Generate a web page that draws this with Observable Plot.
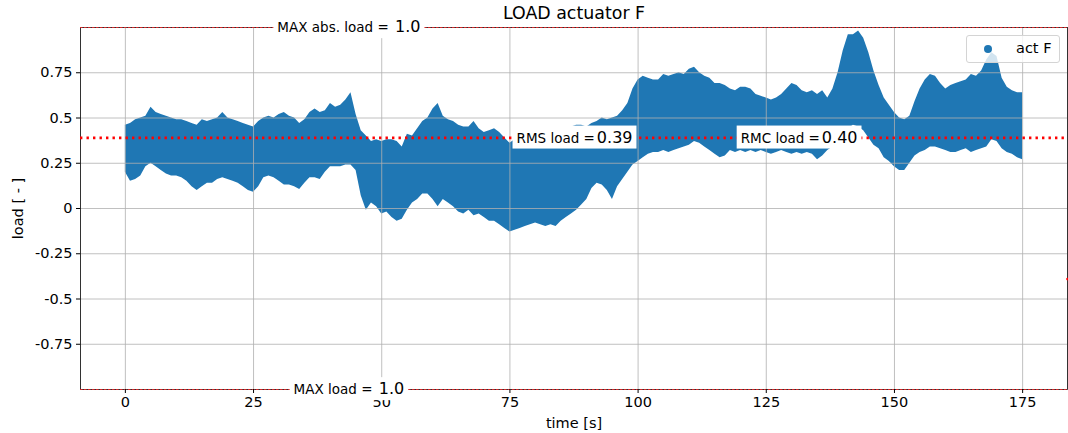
<!DOCTYPE html>
<html><head><meta charset="utf-8">
<script src="https://cdn.jsdelivr.net/npm/d3@7"></script>
<script src="https://cdn.jsdelivr.net/npm/@observablehq/plot@0.6"></script>
<style>
html,body{margin:0;padding:0;background:#fff;}
#wrap{position:relative;width:1068px;height:433px;font-family:"DejaVu Sans",sans-serif;}
#legend{position:absolute;left:966px;top:35px;width:94px;height:28px;box-sizing:border-box;border:1px solid #d4d4d4;border-radius:3px;background:rgba(255,255,255,0.8);}
#legend .sw{position:absolute;left:17px;top:9px;width:8px;height:8px;border-radius:50%;background:#1f77b4;}
#legend .lb{position:absolute;left:49px;top:3px;font-size:14.5px;line-height:19px;color:#000;}
</style></head><body><div id="wrap"><div id="legend"><span class="sw"></span><span class="lb">act F</span></div></div>
<script>
// time samples [s]
const time = [0,1,2,3,4,5,6,7,8,9,10,11,12,13,14,15,16,17,18,19,20,21,22,23,24,25,26,27,28,29,
30,31,32,33,34,35,36,37,38,39,40,41,42,43,44,45,46,47,48,49,50,51,52,53,54,55,56,57,58,59,
60,61,62,63,64,65,66,67,68,69,70,71,72,73,74,75,76,77,78,79,80,81,82,83,84,85,86,87,88,89,
90,91,92,93,94,95,96,97,98,99,100,101,102,103,104,105,106,107,108,109,110,111,112,113,114,115,116,117,118,119,
120,121,122,123,124,125,126,127,128,129,130,131,132,133,134,135,136,137,138,139,140,141,142,143,144,145,146,147,148,149,
150,151,152,153,154,155,156,157,158,159,160,161,162,163,164,165,166,167,168,169,170,171,172,173,174,175];
// upper envelope of the load samples
const upper = [0.46,0.47,0.49,0.50,0.51,0.56,0.53,0.52,0.51,0.50,
0.49,0.49,0.48,0.47,0.46,0.49,0.48,0.49,0.50,0.53,
0.50,0.49,0.48,0.47,0.46,0.45,0.48,0.50,0.51,0.50,
0.52,0.53,0.51,0.50,0.47,0.49,0.53,0.55,0.53,0.54,
0.58,0.56,0.57,0.60,0.64,0.52,0.43,0.40,0.37,0.38,
0.37,0.38,0.38,0.37,0.34,0.41,0.40,0.44,0.48,0.50,
0.55,0.58,0.51,0.49,0.48,0.46,0.45,0.45,0.48,0.44,
0.42,0.43,0.44,0.42,0.39,0.36,0.38,0.40,0.41,0.40,
0.41,0.40,0.41,0.42,0.43,0.44,0.45,0.45,0.46,0.46,
0.45,0.47,0.48,0.50,0.49,0.50,0.51,0.54,0.58,0.66,
0.71,0.73,0.72,0.71,0.71,0.74,0.73,0.74,0.75,0.74,
0.77,0.78,0.75,0.73,0.72,0.69,0.69,0.68,0.66,0.65,
0.67,0.67,0.66,0.63,0.62,0.61,0.60,0.61,0.63,0.66,
0.69,0.68,0.65,0.64,0.65,0.63,0.65,0.61,0.66,0.75,
0.87,0.96,0.96,0.98,0.94,0.86,0.76,0.68,0.61,0.57,
0.53,0.50,0.49,0.51,0.59,0.66,0.71,0.74,0.73,0.69,
0.66,0.68,0.69,0.70,0.71,0.74,0.73,0.76,0.82,0.86,
0.84,0.72,0.67,0.65,0.64,0.64];
// lower envelope of the load samples
const lower = [0.20,0.15,0.16,0.18,0.23,0.25,0.23,0.21,0.19,0.18,
0.18,0.17,0.15,0.12,0.10,0.12,0.14,0.14,0.16,0.17,
0.16,0.15,0.14,0.12,0.10,0.09,0.12,0.17,0.18,0.17,
0.15,0.13,0.13,0.12,0.105,0.14,0.17,0.17,0.16,0.20,
0.23,0.23,0.23,0.24,0.24,0.21,0.07,-0.01,0.03,0.01,
-0.03,-0.02,-0.05,-0.07,-0.06,-0.01,0.03,0.05,0.08,0.08,
0.05,0.01,0.05,0.03,0.01,-0.02,-0.03,-0.01,-0.04,-0.03,
-0.05,-0.07,-0.07,-0.09,-0.11,-0.13,-0.12,-0.11,-0.10,-0.09,
-0.08,-0.09,-0.10,-0.09,-0.10,-0.07,-0.05,-0.03,-0.01,0.02,
0.05,0.11,0.14,0.13,0.10,0.05,0.12,0.16,0.20,0.24,
0.26,0.28,0.30,0.31,0.31,0.32,0.31,0.32,0.33,0.34,
0.35,0.37,0.36,0.34,0.32,0.30,0.28,0.29,0.32,0.31,
0.32,0.31,0.32,0.31,0.32,0.31,0.30,0.31,0.32,0.31,
0.30,0.31,0.30,0.31,0.30,0.27,0.29,0.32,0.34,0.37,
0.40,0.44,0.46,0.45,0.43,0.39,0.35,0.33,0.28,0.26,
0.23,0.21,0.21,0.25,0.29,0.31,0.32,0.34,0.34,0.33,
0.32,0.31,0.31,0.32,0.33,0.31,0.32,0.33,0.34,0.38,
0.37,0.33,0.31,0.30,0.28,0.27];

const maxAbsLoad = 1.0;
const rmsLoad = 0.39;
const rmcLoad = 0.40;
const xTicks = [0,25,50,75,100,125,150,175];
const yTicks = [-0.75,-0.5,-0.25,0,0.25,0.5,0.75];
const yTickLabels = ["-0.75","-0.5","-0.25","0","0.25","0.5","0.75"];
const xDomain = [-8.75, 183.75];

const series = time.map((t, i) => ({t, hi: upper[i], lo: lower[i]}));
const annots = [
  {t: 43.6, v: maxAbsLoad, prefix: "MAX abs. load = ", num: maxAbsLoad.toFixed(1)},
  {t: 43.6, v: -maxAbsLoad, prefix: "MAX load = ", num: maxAbsLoad.toFixed(1)},
  {t: 87.6, v: rmsLoad, prefix: "RMS load =", num: rmsLoad.toFixed(2)},
  {t: 131.4, v: rmsLoad, prefix: "RMC load =", num: rmcLoad.toFixed(2)}
];

const chart = Plot.plot({
  width: 1068, height: 433,
  marginLeft: 80, marginRight: 1, marginTop: 27, marginBottom: 44,
  style: {fontFamily: "DejaVu Sans", fontSize: "14.5px", background: "#fff", color: "#000"},
  x: {domain: xDomain},
  y: {domain: [-maxAbsLoad, maxAbsLoad]},
  marks: [
    Plot.areaY(series, {x: "t", y1: "lo", y2: "hi", fill: "#1f77b4", curve: "linear"}),
    Plot.gridX(xTicks, {stroke: "#b0b0b0", strokeOpacity: 1, strokeWidth: 0.8}),
    Plot.gridY(yTicks, {stroke: "#b0b0b0", strokeOpacity: 1, strokeWidth: 0.8}),
    Plot.frame({stroke: "#000", strokeWidth: 0.8}),
    Plot.ruleY([maxAbsLoad, -maxAbsLoad], {stroke: "#d62728", strokeWidth: 1, strokeDasharray: "2.5,1.5"}),
    Plot.ruleY([rmsLoad], {stroke: "red", strokeWidth: 2.6, strokeDasharray: "2.4,4.1"}),
    Plot.dot([{t: xDomain[1], v: -rmsLoad}], {x: "t", y: "v", r: 1.3, fill: "red", stroke: null}),
    Plot.axisX({ticks: xTicks, tickSize: 4, tickPadding: 3, label: "time [s]", labelAnchor: "center", labelArrow: "none", labelOffset: 38}),
    Plot.axisY({ticks: yTicks, tickFormat: (d) => yTickLabels[yTicks.indexOf(d)], tickSize: 4, tickPadding: 4, label: "load [ - ]", labelAnchor: "center", labelArrow: "none", labelOffset: 68}),
    Plot.text(annots, {x: "t", y: "v", text: (d) => d.prefix + d.num, className: "annot", textAnchor: "middle", lineAnchor: "middle", fill: "#000"}),
    Plot.text(["LOAD actuator F"], {frameAnchor: "top", dy: -14, fontSize: 17.4, lineAnchor: "middle", fill: "#000"})
  ]
});
document.getElementById("wrap").insertBefore(chart, document.getElementById("legend"));

// split annotation text into small label + larger number and add white boxes
const NS = "http://www.w3.org/2000/svg";
chart.querySelectorAll("g.annot text").forEach((el, i) => {
  const a = annots[i];
  el.textContent = "";
  const t1 = document.createElementNS(NS, "tspan");
  t1.setAttribute("font-size", "13.5");
  t1.textContent = a.prefix;
  const t2 = document.createElementNS(NS, "tspan");
  t2.setAttribute("font-size", "16");
  t2.setAttribute("dx", "2");
  t2.textContent = a.num;
  el.append(t1, t2);
  const bb = el.getBBox();
  const r = document.createElementNS(NS, "rect");
  r.setAttribute("x", bb.x - 4);
  r.setAttribute("y", bb.y - 2);
  r.setAttribute("width", bb.width + 8);
  r.setAttribute("height", bb.height + 4);
  r.setAttribute("fill", "#fff");
  if (el.getAttribute("transform")) r.setAttribute("transform", el.getAttribute("transform"));
  el.parentNode.insertBefore(r, el);
});
</script>
</body></html>
